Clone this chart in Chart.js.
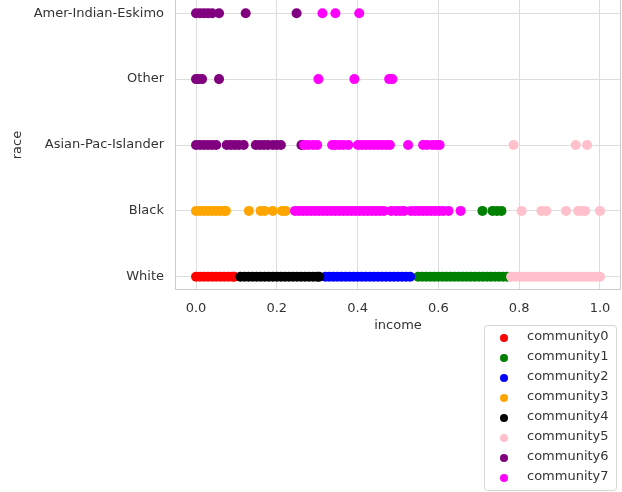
<!DOCTYPE html>
<html>
<head>
<meta charset="utf-8">
<script src="https://cdn.jsdelivr.net/npm/chart.js@4"></script>
<style>
  html, body { margin: 0; padding: 0; background: #fff; }
  #wrap { width: 622px; height: 492px; }
</style>
</head>
<body>
<div id="wrap"><canvas id="raceChart" width="622" height="492"></canvas></div>
<script>
// race rows, bottom to top
const races = ['White', 'Black', 'Asian-Pac-Islander', 'Other', 'Amer-Indian-Eskimo'];
const xTicks = [0, 0.2, 0.4, 0.6, 0.8, 1.0];

const communities = ['community0', 'community1', 'community2', 'community3',
                     'community4', 'community5', 'community6', 'community7'];
const colors = ['#ff0000', '#008000', '#0000ff', '#ffa500',
                '#000000', '#ffc0cb', '#800080', '#ff00ff'];

// incomes per community and race
const c0_white = [0.00, 0.01, 0.02, 0.03, 0.04, 0.05, 0.06, 0.07, 0.08, 0.09, 0.095];
const c1_white = [0.55, 0.56, 0.57, 0.58, 0.59, 0.60, 0.61, 0.62, 0.63, 0.64, 0.65, 0.66,
                  0.67, 0.68, 0.69, 0.70, 0.71, 0.72, 0.73, 0.74, 0.75, 0.76, 0.77];
const c1_black = [0.709, 0.734, 0.745, 0.756];
const c2_white = [0.32, 0.33, 0.34, 0.35, 0.36, 0.37, 0.38, 0.39, 0.40, 0.41, 0.42, 0.43,
                  0.44, 0.45, 0.46, 0.47, 0.48, 0.49, 0.50, 0.51, 0.52, 0.53];
const c3_black = [0.00, 0.01, 0.02, 0.03, 0.04, 0.05, 0.06, 0.07, 0.074,
                  0.131, 0.160, 0.170, 0.190, 0.213, 0.222];
const c4_white = [0.11, 0.12, 0.13, 0.14, 0.15, 0.16, 0.17, 0.18, 0.19, 0.20, 0.21,
                  0.22, 0.23, 0.24, 0.25, 0.26, 0.27, 0.28, 0.29, 0.30, 0.305];
const c5_white = [0.78, 0.79, 0.80, 0.81, 0.82, 0.83, 0.84, 0.85, 0.86, 0.87, 0.88,
                  0.89, 0.90, 0.91, 0.92, 0.93, 0.94, 0.95, 0.96, 0.97, 0.98, 0.99, 1.00];
const c5_black = [0.806, 0.855, 0.867, 0.916, 0.946, 0.956, 0.963, 1.00];
const c5_asian = [0.786, 0.940, 0.968];
const c6_asian = [0.00, 0.01, 0.02, 0.03, 0.04, 0.05, 0.076, 0.086, 0.096, 0.106, 0.118,
                  0.148, 0.158, 0.168, 0.178, 0.190, 0.200, 0.210, 0.261];
const c6_other = [0.00, 0.006, 0.015, 0.057];
const c6_amer  = [0.00, 0.01, 0.02, 0.03, 0.04, 0.057, 0.123, 0.249];
const c7_black = [0.245, 0.255, 0.265, 0.275, 0.285, 0.295, 0.305, 0.315, 0.325, 0.335,
                  0.345, 0.355, 0.365, 0.375, 0.385, 0.395, 0.405, 0.415, 0.425, 0.435,
                  0.445, 0.455, 0.465, 0.483, 0.495, 0.505, 0.515, 0.532, 0.542, 0.552,
                  0.562, 0.572, 0.582, 0.592, 0.602, 0.612, 0.625, 0.655];
const c7_asian = [0.268, 0.278, 0.290, 0.300, 0.337, 0.345, 0.355, 0.365, 0.377,
                  0.401, 0.411, 0.421, 0.431, 0.441, 0.451, 0.461, 0.471, 0.480,
                  0.525, 0.562, 0.572, 0.585, 0.595, 0.603];
const c7_other = [0.303, 0.392, 0.478, 0.486];
const c7_amer  = [0.313, 0.345, 0.404];

// [community][race index] -> incomes
const rows = [
  [c0_white],
  [c1_white, c1_black],
  [c2_white],
  [[], c3_black],
  [c4_white],
  [c5_white, c5_black, c5_asian],
  [[], [], c6_asian, c6_other, c6_amer],
  [[], c7_black, c7_asian, c7_other, c7_amer]
];

const FONT = 'DejaVu Sans';
const TEXT = '#333333';

const datasets = communities.map((name, i) => {
  const pts = [];
  rows[i].forEach((vals, r) => vals.forEach(v => pts.push({ x: v, y: r })));
  return {
    label: name,
    data: pts,
    backgroundColor: colors[i],
    borderWidth: 0,
    pointRadius: 5,
    pointHoverRadius: 5,
    order: communities.length - i
  };
});

// light frame round the plot area, like the seaborn whitegrid spines
const framePlugin = {
  id: 'frame',
  afterDraw(chart) {
    const { ctx, chartArea: a } = chart;
    ctx.save();
    ctx.strokeStyle = '#cccccc';
    ctx.lineWidth = 1;
    ctx.strokeRect(a.left + 0.5, a.top - 1, a.right - a.left - 1, a.bottom - a.top + 0.5);
    ctx.restore();
  }
};

// legend box below the plot, on the right
const legendPlugin = {
  id: 'boxLegend',
  afterDraw(chart) {
    const ctx = chart.ctx;
    const x0 = 484, y0 = 325, w = 132, h = 165;
    ctx.save();
    ctx.fillStyle = '#ffffff';
    ctx.strokeStyle = '#d6d6d6';
    ctx.lineWidth = 1;
    ctx.beginPath();
    ctx.roundRect(x0 + 0.5, y0 + 0.5, w, h, 3);
    ctx.fill();
    ctx.stroke();
    ctx.font = '13px "' + FONT + '"';
    ctx.textBaseline = 'middle';
    chart.data.datasets.forEach((ds, i) => {
      const y = y0 + 13 + i * 20;
      ctx.fillStyle = ds.backgroundColor;
      ctx.beginPath();
      ctx.arc(504, y, 4, 0, Math.PI * 2);
      ctx.fill();
      ctx.fillStyle = TEXT;
      ctx.fillText(ds.label, 527, y - 1);
    });
    ctx.restore();
  }
};

new Chart(document.getElementById('raceChart'), {
  type: 'scatter',
  data: { datasets },
  plugins: [framePlugin, legendPlugin],
  options: {
    responsive: false,
    animation: false,
    layout: { autoPadding: false, padding: { left: 0, right: 1, top: 0, bottom: 159 } },
    plugins: {
      legend: { display: false },
      tooltip: { enabled: false }
    },
    scales: {
      x: {
        type: 'linear',
        min: -0.052,
        max: 1.052,
        afterFit(scale) {
          scale.height = 43;
          scale.paddingLeft = 0;
          scale.paddingRight = 0;
        },
        afterBuildTicks(scale) { scale.ticks = xTicks.map(v => ({ value: v })); },
        grid: { color: '#dddddd', drawTicks: false },
        border: { display: false },
        ticks: {
          padding: 11,
          color: TEXT,
          font: { family: FONT, size: 13 },
          callback: v => v.toFixed(1)
        },
        title: {
          display: true,
          text: 'income',
          color: TEXT,
          padding: { top: 0, bottom: 0 },
          font: { family: FONT, size: 13 }
        }
      },
      y: {
        type: 'linear',
        min: -0.2,
        max: 4.2,
        afterFit(scale) {
          scale.width = 175;
          scale.paddingTop = 0;
          scale.paddingBottom = 0;
        },
        afterBuildTicks(scale) { scale.ticks = races.map((r, i) => ({ value: i })); },
        grid: { color: '#dddddd', drawTicks: false },
        border: { display: false },
        ticks: {
          padding: 11,
          color: TEXT,
          font: { family: FONT, size: 13 },
          callback: v => races[v] ?? ''
        },
        title: {
          display: true,
          text: 'race',
          color: TEXT,
          padding: { top: 10, bottom: 0 },
          font: { family: FONT, size: 13 }
        }
      }
    }
  }
});
</script>
</body>
</html>
